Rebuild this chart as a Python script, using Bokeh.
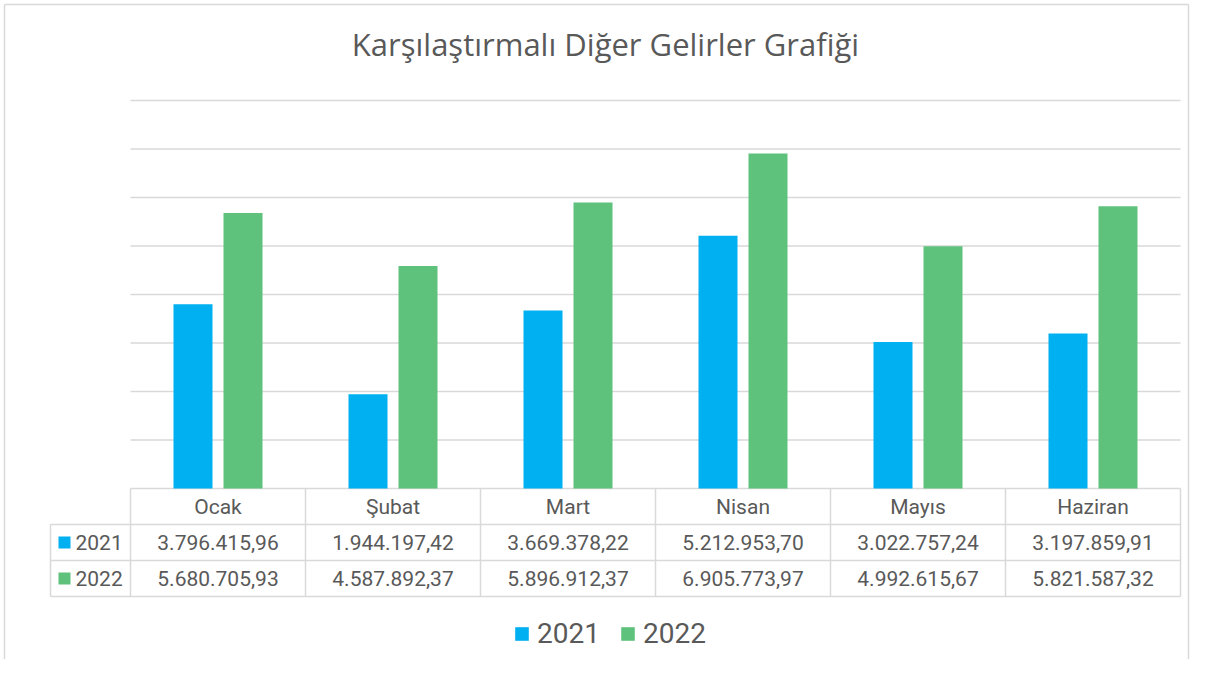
from bokeh.plotting import figure
from bokeh.models import Range1d, Label, Legend, LegendItem
from bokeh.core.properties import value
from bokeh.embed import file_html
from bokeh.resources import INLINE

# ---- data ----
months = ["Ocak", "Şubat", "Mart", "Nisan", "Mayıs", "Haziran"]
series = ["2021", "2022"]
v2021 = [3796415.96, 1944197.42, 3669378.22, 5212953.70, 3022757.24, 3197859.91]
v2022 = [5680705.93, 4587892.37, 5896912.37, 6905773.97, 4992615.67, 5821587.32]
grid_ticks = [0, 1000000, 2000000, 3000000, 4000000, 5000000, 6000000, 7000000, 8000000]
title = "Karşılaştırmalı Diğer Gelirler Grafiği"

# ---- style ----
BLUE = "#00B0F0"
GREEN = "#5EC27C"
GRID = "#D9D9D9"
TXT = "#595959"
FONT = "Roboto"


def tr(v):
    s = f"{v:,.2f}"
    return s.replace(",", "X").replace(".", ",").replace("X", ".")


W, H = 1190, 659
px_x = 175.0          # px per category
px_y = 48.5 / 1e6     # px per unit value
xs = -0.5 - 130 / px_x
ye = 488 / px_y
ys = ye - H / px_y
p = figure(width=W, height=H, output_backend="svg", toolbar_location=None,
           x_range=Range1d(xs, xs + W / px_x), y_range=Range1d(ys, ye),
           x_axis_type=None, y_axis_type=None, min_border=0)
p.outline_line_color = None
p.background_fill_color = "white"
p.border_fill_color = "white"

# chart border (left, top, right)
bx0 = xs + 4 / px_x
bx1 = xs + (W - 2) / px_x
by0 = ye - 4 / px_y
p.segment(x0=[bx0, bx0, bx1], x1=[bx0, bx1, bx1], y0=[ys, by0, by0], y1=[by0, by0, ys],
          line_color=GRID, line_width=1.5)

n = len(months)
xi = list(range(n))
# gridlines
p.segment(x0=[-0.5] * len(grid_ticks), x1=[n - 0.5] * len(grid_ticks),
          y0=grid_ticks, y1=grid_ticks, line_color=GRID, line_width=1.5)

off = 25 / px_x
bw = 39 / px_x
r1 = p.vbar(x=[i - off for i in xi], top=v2021, bottom=0, width=bw, fill_color=BLUE, line_color=None)
r2 = p.vbar(x=[i + off for i in xi], top=v2022, bottom=0, width=bw, fill_color=GREEN, line_color=None)

# ---- data table ----
rh = 36 / 48.5 * 1e6
left = -0.5 - 80 / px_x
p.segment(x0=[i - 0.5 for i in range(n + 1)], x1=[i - 0.5 for i in range(n + 1)],
          y0=[0] * (n + 1), y1=[-3 * rh] * (n + 1), line_color=GRID, line_width=1.5)
p.segment(x0=[left], x1=[left], y0=[-rh], y1=[-3 * rh], line_color=GRID, line_width=1.5)
p.segment(x0=[left] * 3, x1=[n - 0.5] * 3, y0=[-rh, -2 * rh, -3 * rh], y1=[-rh, -2 * rh, -3 * rh],
          line_color=GRID, line_width=1.5)

fs = "21px"
p.text(x=xi, y=[-0.5 * rh] * n, text=months, text_align="center", text_baseline="middle",
       text_font=value(FONT), text_font_size=fs, text_color=TXT)
for k, (vals, col) in enumerate([(v2021, BLUE), (v2022, GREEN)]):
    yy = -(1.5 + k) * rh
    p.text(x=xi, y=[yy] * n, text=[tr(v) for v in vals], text_align="center", text_baseline="middle",
           text_font=value(FONT), text_font_size=fs, text_color=TXT)
    p.scatter(x=[-0.5 - 66 / px_x], y=[yy], marker="square", size=12, fill_color=col, line_color=None)
    p.text(x=[-0.5 - 55 / px_x], y=[yy], text=[series[k]], text_align="left", text_baseline="middle",
           text_font=value(FONT), text_font_size=fs, text_color=TXT)

# ---- title ----
p.add_layout(Label(x=605, y=H - 43, x_units="screen", y_units="screen", text=title,
                   text_align="center", text_baseline="middle", text_font="Open Sans",
                   text_font_size="31px", text_color=TXT))

# ---- legend ----
leg = Legend(items=[LegendItem(label=series[0], renderers=[r1]), LegendItem(label=series[1], renderers=[r2])],
             orientation="horizontal", location=(513, 9), glyph_width=17, glyph_height=17,
             label_text_font=FONT, label_text_font_size="28px", label_text_color=TXT,
             label_standoff=7, spacing=19, padding=0, margin=0,
             border_line_alpha=0, background_fill_alpha=0)
p.add_layout(leg)

open("out.html", "w").write(file_html(p, INLINE))
